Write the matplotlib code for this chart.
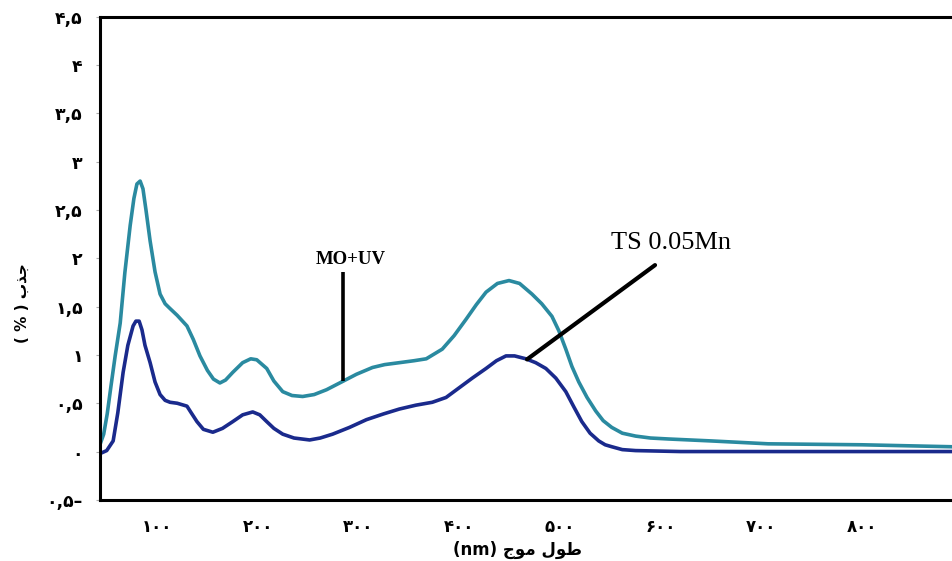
import matplotlib
matplotlib.use("Agg")
from matplotlib import pyplot as plt

# wavelength (nm) / absorbance
wl_uv = [43.6, 47, 50.5, 54, 58.4, 63.4, 68, 73.3, 77, 80, 83.2, 86, 89, 93.1, 98,
         103, 108, 112.9, 120, 129.7, 136, 142.6, 150, 156, 162.4, 168, 175.2, 185,
         193, 199, 208.9, 216, 224.8, 234, 244.6, 256, 268.3, 283.2, 298, 313.9, 326,
         340.6, 355, 367.3, 383.2, 395, 406.9, 417, 426.7, 438, 449.5, 460, 472.3,
         482, 492.1, 499, 505.9, 512, 518.8, 527, 535.6, 543, 551.5, 562, 575.2,
         590, 607.9, 650, 706.9, 800, 888]
abs_uv = [0.08, 0.18, 0.39, 0.66, 0.99, 1.33, 1.85, 2.34, 2.62, 2.77, 2.80, 2.72,
          2.50, 2.18, 1.86, 1.63, 1.53, 1.48, 1.41, 1.30, 1.16, 0.99, 0.84, 0.75,
          0.71, 0.74, 0.82, 0.92, 0.96, 0.95, 0.86, 0.73, 0.62, 0.58, 0.57, 0.59,
          0.64, 0.72, 0.80, 0.87, 0.90, 0.92, 0.94, 0.96, 1.06, 1.20, 1.37, 1.52,
          1.65, 1.74, 1.77, 1.74, 1.63, 1.53, 1.40, 1.25, 1.06, 0.88, 0.72, 0.56,
          0.42, 0.32, 0.25, 0.19, 0.16, 0.14, 0.13, 0.11, 0.08, 0.07, 0.05]

wl_ts = [43.6, 50, 56.4, 61, 66.3, 71, 76.2, 79, 82.2, 85, 88, 93.1, 98, 103, 108,
         112.9, 120, 129.7, 134, 139.6, 146, 155.4, 165, 175.2, 185, 195, 202,
         208.9, 216, 224.8, 236, 251.5, 262, 274.3, 291.1, 307.9, 325, 340.6, 357,
         373.3, 387, 400, 413, 426.7, 437, 446.5, 455, 466.3, 476, 486.1, 496,
         505.9, 514, 521.8, 530, 538.6, 545, 551.5, 562, 575.2, 620, 706.9, 800, 888]
abs_ts = [-0.02, 0.01, 0.11, 0.40, 0.82, 1.10, 1.30, 1.35, 1.35, 1.26, 1.10, 0.92,
          0.72, 0.59, 0.53, 0.51, 0.50, 0.47, 0.40, 0.31, 0.23, 0.20, 0.24, 0.31,
          0.38, 0.41, 0.38, 0.31, 0.24, 0.18, 0.14, 0.12, 0.14, 0.18, 0.25, 0.33,
          0.39, 0.44, 0.48, 0.51, 0.56, 0.66, 0.76, 0.86, 0.94, 0.99, 0.99, 0.96,
          0.92, 0.86, 0.76, 0.62, 0.46, 0.31, 0.19, 0.11, 0.07, 0.05, 0.02, 0.01,
          0.0, 0.0, 0.0, 0.0]

x_ticks = [100, 200, 300, 400, 500, 600, 700, 800]
x_labels = ["۱۰۰", "۲۰۰", "۳۰۰", "۴۰۰", "۵۰۰", "۶۰۰", "۷۰۰", "۸۰۰"]
y_ticks = [-0.5, 0, 0.5, 1, 1.5, 2, 2.5, 3, 3.5, 4, 4.5]
y_labels = ["۰,۵–", "۰", "۰,۵", "۱", "۱,۵", "۲", "۲,۵", "۳", "۳,۵", "۴", "۴,۵"]

# arabic text pre-shaped (presentation forms), visual order
x_title = "(nm) \uFE9D\uFEEE\uFEE3 \uFEDD\uFEEE\uFEC3"
y_title = "( % ) \uFE8F\uFEAC\uFE9F"

fig = plt.figure(figsize=(9.53, 5.61), dpi=100)
ax = fig.add_axes([0.105, 0.109, 0.895, 0.861])

ax.plot(wl_uv, abs_uv, color="#2a8aa0", lw=2.6, solid_joinstyle="round")
ax.plot(wl_ts, abs_ts, color="#1a2a8c", lw=2.6, solid_joinstyle="round")

ax.set_xlim(43.4, 890.4)
ax.set_ylim(-0.43, 4.48)

ax.set_xticks(x_ticks)
ax.set_xticklabels(x_labels, fontweight="bold", fontsize=12, family=["DejaVu Sans"])
ax.set_yticks(y_ticks)
ax.set_yticklabels(y_labels, fontweight="bold", fontsize=12.5, family=["DejaVu Sans"])
ax.tick_params(axis="x", length=0, pad=13)
ax.tick_params(axis="y", length=3, color="#aaaaaa", pad=9.5)

for s in ["left", "bottom", "top"]:
    ax.spines[s].set_linewidth(2.2)
ax.spines["right"].set_visible(False)

fig.text(0.543, 0.02, x_title, ha="center", va="center", fontsize=12,
         fontweight="bold", family=["DejaVu Sans"])
fig.text(0.023, 0.46, y_title, ha="center", va="center", rotation=90,
         fontsize=11, fontweight="bold", family=["DejaVu Sans"])

# callouts
ax.plot([284.7, 284.7], [1.86, 0.73], color="black", lw=2.6, solid_capstyle="butt")
ax.text(292.6, 1.94, "MO+UV", ha="center", va="baseline", fontsize=13.5,
        fontweight="bold", family="Liberation Serif")
ax.plot([594.5, 467.4], [1.93, 0.954], color="black", lw=3, solid_capstyle="round")
ax.text(610.4, 2.10, "TS 0.05Mn", ha="center", va="baseline", fontsize=19,
        family="Liberation Serif")

fig.savefig("out.png", dpi=100)
